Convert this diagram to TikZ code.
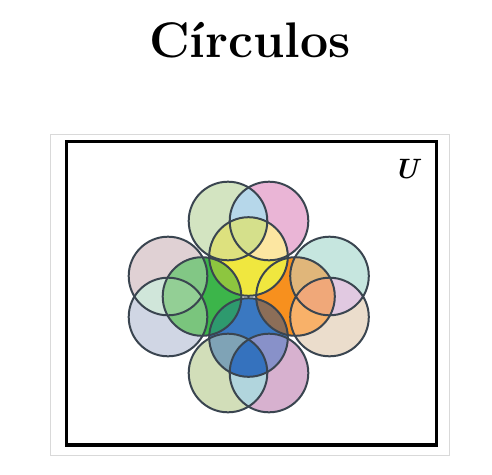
\documentclass[tikz,border=0pt]{standalone}
\usepackage{fontspec}
\usepackage{tikz}
\usetikzlibrary{calc}

\definecolor{rim}{HTML}{3A4550}
\definecolor{boxgray}{HTML}{D9D9D9}
% top petal
\definecolor{tlgreen}{HTML}{D3E4C1}
\definecolor{trpink}{HTML}{EAB5D6}
\definecolor{topcap}{HTML}{B6D7EA}
\definecolor{yel}{HTML}{F0E73F}
\definecolor{yeltl}{HTML}{DDE17E}
\definecolor{yeltr}{HTML}{FCE6A1}
\definecolor{yelboth}{HTML}{D5E08B}
% left petal
\definecolor{lumauve}{HTML}{E0D1D4}
\definecolor{ldgray}{HTML}{D0D6E4}
\definecolor{leftcap}{HTML}{D0E6DA}
\definecolor{grn}{HTML}{3CB54A}
\definecolor{grnlu}{HTML}{82C785}
\definecolor{grnld}{HTML}{7AC57D}
\definecolor{grnboth}{HTML}{93CF95}
% right petal
\definecolor{ruteal}{HTML}{C6E6DF}
\definecolor{rdpeach}{HTML}{EBDDCC}
\definecolor{rightcap}{HTML}{E1C9E1}
\definecolor{org}{HTML}{F7901E}
\definecolor{orgru}{HTML}{E0B67A}
\definecolor{orgrd}{HTML}{F8B169}
\definecolor{orgboth}{HTML}{F0A879}
% bottom petal
\definecolor{blolive}{HTML}{D2DEB9}
\definecolor{brpink}{HTML}{D7B1CF}
\definecolor{botcap}{HTML}{B1D5DD}
\definecolor{blu}{HTML}{3A78C1}
\definecolor{blubl}{HTML}{7FA3B6}
\definecolor{blubr}{HTML}{8891C9}
\definecolor{bluboth}{HTML}{3572BE}
% inner lenses
\definecolor{yelgrn}{HTML}{8DC63F}
\definecolor{blugrn}{HTML}{2E9A6E}
\definecolor{bluorg}{HTML}{8C6E58}

\begin{document}
\begin{tikzpicture}[x=1pt, y=-1pt, thick]
            \useasboundingbox (0,0) rectangle (492,474);
            \def\rr{39.3}

            \coordinate (TL) at (228,221);
            \coordinate (TR) at (269,221);
            \coordinate (Y) at (248.5,256.5);
            \coordinate (LU) at (168,276);
            \coordinate (LD) at (168,317);
            \coordinate (G) at (202,296.5);
            \coordinate (RU) at (329.5,276);
            \coordinate (RD) at (329.5,317);
            \coordinate (O) at (295.5,296.5);
            \coordinate (BL) at (228,373);
            \coordinate (BR) at (269,373);
            \coordinate (B) at (248.5,337.5);

            \node[anchor=base, font=\fontsize{50}{54}\selectfont\bfseries] (title) at (250,57.5) {Círculos};
            \draw[boxgray, line width=1.2pt] (50.7,134.3) rectangle (449.3,455.7);
            \draw[black, line width=3.3pt] (66.7,141.7) rectangle (436.7,445);
            \node[anchor=base, font=\fontsize{28}{30}\selectfont\bfseries\itshape] (U) at (406,178.5) {U};

            % top petal
            \fill[tlgreen] (TL) circle (\rr);
            \fill[trpink] (TR) circle (\rr);
            \begin{scope}
                \clip (TL) circle (\rr);
                \fill[topcap] (TR) circle (\rr);
            \end{scope}
            \fill[yel] (Y) circle (\rr);
            \begin{scope}
                \clip (Y) circle (\rr);
                \fill[yeltl] (TL) circle (\rr);
                \fill[yeltr] (TR) circle (\rr);
                \clip (TL) circle (\rr);
                \fill[yelboth] (TR) circle (\rr);
            \end{scope}

            % left petal
            \fill[lumauve] (LU) circle (\rr);
            \fill[ldgray] (LD) circle (\rr);
            \begin{scope}
                \clip (LU) circle (\rr);
                \fill[leftcap] (LD) circle (\rr);
            \end{scope}
            \fill[grn] (G) circle (\rr);
            \begin{scope}
                \clip (G) circle (\rr);
                \fill[grnlu] (LU) circle (\rr);
                \fill[grnld] (LD) circle (\rr);
                \clip (LU) circle (\rr);
                \fill[grnboth] (LD) circle (\rr);
            \end{scope}

            % right petal
            \fill[ruteal] (RU) circle (\rr);
            \fill[rdpeach] (RD) circle (\rr);
            \begin{scope}
                \clip (RU) circle (\rr);
                \fill[rightcap] (RD) circle (\rr);
            \end{scope}
            \fill[org] (O) circle (\rr);
            \begin{scope}
                \clip (O) circle (\rr);
                \fill[orgru] (RU) circle (\rr);
                \fill[orgrd] (RD) circle (\rr);
                \clip (RU) circle (\rr);
                \fill[orgboth] (RD) circle (\rr);
            \end{scope}

            % bottom petal
            \fill[blolive] (BL) circle (\rr);
            \fill[brpink] (BR) circle (\rr);
            \begin{scope}
                \clip (BL) circle (\rr);
                \fill[botcap] (BR) circle (\rr);
            \end{scope}
            \fill[blu] (B) circle (\rr);
            \begin{scope}
                \clip (B) circle (\rr);
                \fill[blubl] (BL) circle (\rr);
                \fill[blubr] (BR) circle (\rr);
                \clip (BL) circle (\rr);
                \fill[bluboth] (BR) circle (\rr);
            \end{scope}

            % lenses between the inner circles
            \begin{scope}
                \clip (Y) circle (\rr);
                \fill[yelgrn] (G) circle (\rr);
                \fill[yel] (O) circle (\rr);
            \end{scope}
            \begin{scope}
                \clip (B) circle (\rr);
                \fill[blugrn] (G) circle (\rr);
                \fill[bluorg] (O) circle (\rr);
            \end{scope}

            \foreach \c in {TL,TR,Y,LU,LD,G,RU,RD,O,BL,BR,B}
                \draw[rim, line width=2pt] (\c) circle (\rr);
        \end{tikzpicture}
\end{document}
